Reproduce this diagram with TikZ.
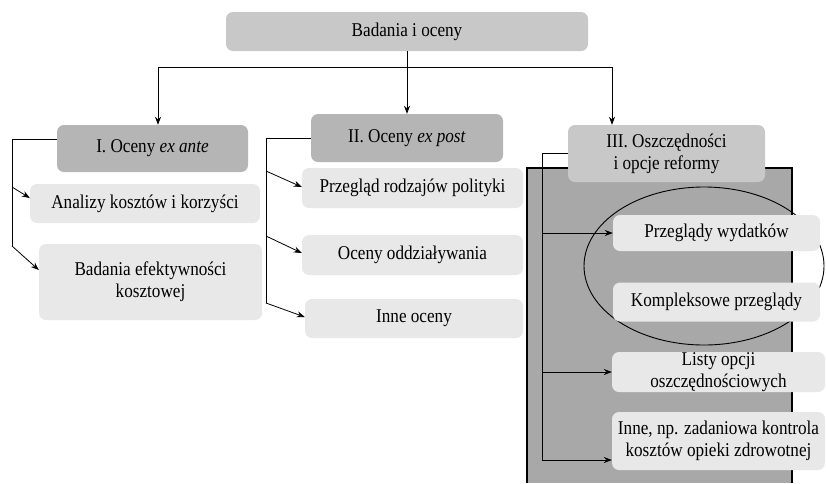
\documentclass[tikz,border=0pt]{standalone}
\usepackage{fontspec}
\setmainfont{Liberation Serif}[FakeStretch=0.88]
\usetikzlibrary{arrows.meta}
\definecolor{topgray}{HTML}{C8C8C8}
\definecolor{headgray}{HTML}{B5B5B5}
\definecolor{leafgray}{HTML}{E8E8E8}
\definecolor{panelgray}{HTML}{A8A8A8}
\tikzset{
  box/.style={rounded corners=7pt, inner sep=0pt, align=center,
    font=\fontsize{19.5}{22}\selectfont},
  topbox/.style={box, fill=topgray},
  headbox/.style={box, fill=headgray},
  leafbox/.style={box, fill=leafgray},
  link/.style={line width=0.8pt, black},
  arr/.style={link, -{Stealth[length=8pt,width=6pt]}},
}
\begin{document}
\begin{tikzpicture}[x=1pt,y=-1pt]
\useasboundingbox (0,0) rectangle (826,483);
% shaded panel behind group III
\fill[panelgray] (527,168) rectangle (792,483);
\draw[line width=1.2pt] (527,483) -- (527,168) -- (792,168) -- (792,483);
\draw[line width=0.9pt] (704,266) ellipse [x radius=120pt, y radius=79pt];

% boxes
\node[topbox, minimum width=362pt, minimum height=39pt] (top) at (407,31.5) {Badania i oceny};
\node[headbox, minimum width=191pt, minimum height=47pt] (g1) at (152.5,148.5) {I. Oceny \textit{ex ante}};
\node[headbox, minimum width=192pt, minimum height=48pt] (g2) at (407,138) {II. Oceny \textit{ex post}};
\node[topbox, minimum width=197pt, minimum height=57pt] (g3) at (666.5,153.5) {III. Oszczędności\\i opcje reformy};

\node[leafbox, minimum width=230pt, minimum height=39pt] (a1) at (145,203.5) {Analizy kosztów i korzyści};
\node[leafbox, minimum width=223pt, minimum height=76pt] (a2) at (150.5,282) {Badania efektywności\\kosztowej};

\node[leafbox, minimum width=221pt, minimum height=40pt] (b1) at (412.5,188) {Przegląd rodzajów polityki};
\node[leafbox, minimum width=221pt, minimum height=40pt] (b2) at (412.5,255) {Oceny oddziaływania};
\node[leafbox, minimum width=218pt, minimum height=39pt] (b3) at (414,318.5) {Inne oceny};

\node[leafbox, minimum width=207pt, minimum height=36pt] (c1) at (716.5,233) {Przeglądy wydatków};
\node[leafbox, minimum width=207pt, minimum height=39pt] (c2) at (716.5,302) {Kompleksowe przeglądy};
\node[leafbox, minimum width=213pt, minimum height=40pt] (c3) at (718.5,372) {Listy opcji\\oszczędnościowych};
\node[leafbox, minimum width=213pt, minimum height=58pt] (c4) at (718.5,441) {Inne, np. zadaniowa kontrola\\kosztów opieki zdrowotnej};

% top level distribution
\coordinate (hl) at (158,67);
\coordinate (hr) at (612,67);
\draw[link] (hl) -- (hr);
\draw[arr] (top.south) -- (g2.north);
\draw[arr] (hl) -- (hl |- g1.north);
\draw[arr] (hr) -- (hr |- g3.north);

% group I
\coordinate (p1) at (12,139);
\coordinate (p2) at (12,187);
\coordinate (p3) at (12,246);
\draw[link] (p1 -| g1.west) -- (p1) -- (p3);
\draw[arr] (p2) -- ([yshift=5.5pt]a1.west);
\draw[arr] (p3) -- ([yshift=12pt]a2.west);

% group II
\coordinate (q1) at (266,138);
\coordinate (q2) at (266,171);
\coordinate (q3) at (266,236);
\coordinate (q4) at (266,303);
\draw[link] (g2.west) -- (q1) -- (q4);
\draw[arr] (q2) -- ([yshift=1pt]b1.west);
\draw[arr] (q3) -- ([yshift=2pt]b2.west);
\draw[arr] (q4) -- ([yshift=1.5pt]b3.west);

% group III
\coordinate (r1) at (542,153.5);
\coordinate (r4) at (542,460);
\draw[link] (g3.west) -- (r1) -- (r4);
\draw[arr] (r1 |- c1.west) -- (c1.west);
\draw[arr] (r1 |- c3.west) -- (c3.west);
\draw[arr] (r4) -- (r4 -| c4.west);
\end{tikzpicture}
\end{document}
